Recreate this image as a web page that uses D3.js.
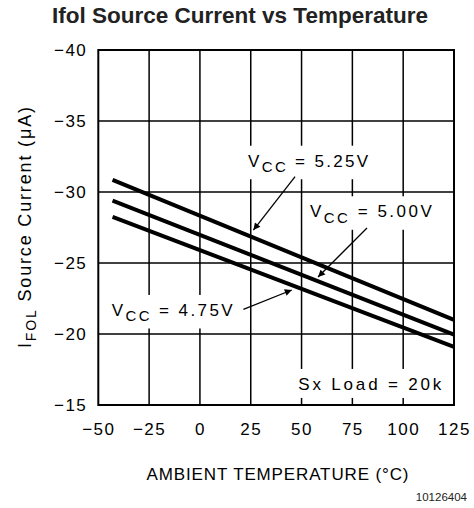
<!DOCTYPE html>
<html><head><meta charset="utf-8">
<script src="https://cdn.jsdelivr.net/npm/d3@7"></script>
<style>body{margin:0;background:#fff}svg{display:block}</style>
</head><body><svg id="c" width="474" height="508"></svg>
<script>
// ---- data ----
const temps = [-43, 125];
const vcc525 = [-30.85, -21.0];
const vcc500 = [-29.4, -19.95];
const vcc475 = [-28.25, -19.1];
const xTicks = [-50, -25, 0, 25, 50, 75, 100, 125];
const yTicks = [-40, -35, -30, -25, -20, -15];
const seriesLabels = ["5.25V", "5.00V", "4.75V"];
// annotation anchors in data units (temperature, current)
const labelAt = [[23.7, -31.78], [54.1, -28.22], [-43.4, -21.27]];
const arrowFrom = [[46.8, -31.08], [82.2, -27.46], [21.4, -21.74]];
const arrowTo = [[26.3, -27.32], [58.1, -24.01], [45.2, -23.1]];
const noteText = "Sx Load = 20k";
const noteAt = [48.4, -16.06];

const svg = d3.select("#c");
const FONT = "'Liberation Sans', Arial, sans-serif";
const x = d3.scaleLinear([-50, 125], [98.3, 454]);
const y = d3.scaleLinear([-40, -15], [50, 405]);

svg.append("defs").append("marker")
  .attr("id", "ah").attr("viewBox", "0 0 10 10").attr("refX", 10).attr("refY", 5)
  .attr("markerWidth", 9).attr("markerHeight", 7).attr("markerUnits", "userSpaceOnUse")
  .attr("orient", "auto")
  .append("path").attr("d", "M0,0L10,5L0,10z").attr("fill", "#000");

// title
svg.append("text").attr("x", 240).attr("y", 23).attr("text-anchor", "middle")
  .attr("font-family", FONT).attr("font-weight", "bold").attr("font-size", 21.5)
  .attr("textLength", 376).attr("lengthAdjust", "spacingAndGlyphs")
  .attr("fill", "#222").text("Ifol Source Current vs Temperature");

// grid
const g = svg.append("g");
g.selectAll(".vg").data(xTicks.slice(1, -1)).join("line")
  .attr("x1", d => x(d)).attr("x2", d => x(d)).attr("y1", y(-40)).attr("y2", y(-15))
  .attr("stroke", "#000").attr("stroke-width", 1.5);
g.selectAll(".hg").data(yTicks.slice(1, -1)).join("line")
  .attr("x1", x(-50)).attr("x2", x(125)).attr("y1", d => y(d)).attr("y2", d => y(d))
  .attr("stroke", "#000").attr("stroke-width", 1.5);

// labels (with white knockout)
const knock = svg.append("g");
const txt = svg.append("g").attr("font-family", FONT).attr("fill", "#000");
const labelWidths = [120, 122, 121];

function vccLabel(i) {
  const t = txt.append("text").attr("x", x(labelAt[i][0])).attr("y", y(labelAt[i][1]))
    .attr("font-size", 17).attr("textLength", labelWidths[i]).attr("lengthAdjust", "spacing");
  t.append("tspan").text("V");
  t.append("tspan").attr("dy", 5.5).attr("font-size", 15).text("CC");
  t.append("tspan").attr("dy", -5.5).text(" = " + seriesLabels[i]);
  return t;
}
const labs = [0, 1, 2].map(vccLabel);
const note = txt.append("text").attr("x", x(noteAt[0])).attr("y", y(noteAt[1]))
  .attr("font-size", 17).attr("textLength", 143).attr("lengthAdjust", "spacing").text(noteText);
labs.concat([note]).forEach(t => {
  const b = t.node().getBBox();
  knock.append("rect").attr("x", b.x - 7).attr("y", b.y - 6)
    .attr("width", b.width + 13).attr("height", b.height + 10).attr("fill", "#fff");
});

// frame
svg.append("rect").attr("x", x(-50)).attr("y", y(-40))
  .attr("width", x(125) - x(-50)).attr("height", y(-15) - y(-40))
  .attr("fill", "none").attr("stroke", "#000").attr("stroke-width", 2);

// data lines
const line = d3.line().x((d, i) => x(temps[i])).y(d => y(d));
svg.append("g").selectAll("path").data([vcc525, vcc500, vcc475]).join("path")
  .attr("d", line).attr("fill", "none").attr("stroke", "#000").attr("stroke-width", 4);

// arrows
svg.append("g").selectAll("line").data(arrowFrom).join("line")
  .attr("x1", d => x(d[0])).attr("y1", d => y(d[1]))
  .attr("x2", (d, i) => x(arrowTo[i][0])).attr("y2", (d, i) => y(arrowTo[i][1]))
  .attr("stroke", "#000").attr("stroke-width", 1.3).attr("marker-end", "url(#ah)");

// axes
const ya = svg.append("g").attr("transform", `translate(${x(-50)},0)`)
  .call(d3.axisLeft(y).tickValues(yTicks).tickSize(0).tickPadding(11));
const xa = svg.append("g").attr("transform", `translate(0,${y(-15)})`)
  .call(d3.axisBottom(x).tickValues(xTicks).tickSize(0).tickPadding(18));
[ya, xa].forEach(a => {
  a.select(".domain").remove();
  a.selectAll("text").attr("font-family", FONT).attr("font-size", 17)
    .attr("fill", "#000").attr("letter-spacing", 1.5);
});

// axis titles
svg.append("text").attr("x", 277.5).attr("y", 480).attr("text-anchor", "middle")
  .attr("font-family", FONT).attr("font-size", 17).attr("textLength", 262)
  .attr("lengthAdjust", "spacing").text("AMBIENT TEMPERATURE (°C)");

const yt = svg.append("text").attr("transform", "translate(31,227.5) rotate(-90)")
  .attr("text-anchor", "middle").attr("font-family", FONT).attr("font-size", 18)
  .attr("textLength", 241).attr("lengthAdjust", "spacing");
yt.append("tspan").text("I");
yt.append("tspan").attr("dy", 5).attr("font-size", 14).text("FOL");
yt.append("tspan").attr("dy", -5).text(" Source Current (\u03BCA)");

svg.append("text").attr("x", 467).attr("y", 501).attr("text-anchor", "end")
  .attr("font-family", FONT).attr("font-size", 11.5).attr("fill", "#222").text("10126404");
</script></body></html>
